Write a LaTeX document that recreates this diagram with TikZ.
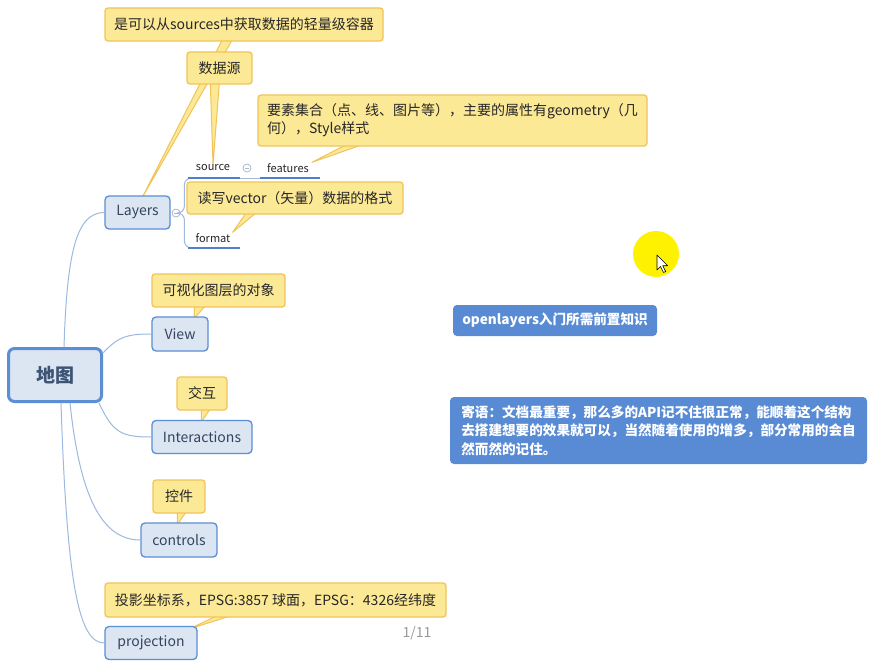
\documentclass[tikz,border=0pt]{standalone}
\usepackage{fontspec}
\setmainfont{Noto Sans CJK SC}
\usetikzlibrary{calc,backgrounds}
\definecolor{nodefill}{HTML}{DCE6F3}
\definecolor{nodeborder}{HTML}{5B8ED3}
\definecolor{nodetext}{HTML}{34445F}
\definecolor{maptext}{HTML}{3D5475}
\definecolor{calloutfill}{HTML}{FCE996}
\definecolor{calloutborder}{HTML}{F0C459}
\definecolor{branchcol}{HTML}{9DB9E0}
\definecolor{ulinecol}{HTML}{4F81C7}
\definecolor{infofill}{HTML}{588BD4}
\definecolor{collapsecol}{HTML}{A9B7CF}
\definecolor{hilite}{HTML}{FFF200}
\begin{document}
\begin{tikzpicture}[x=1pt,y=-1pt,
  bluebox/.style={draw=nodeborder, fill=nodefill, line width=1.3, rounded corners=4, text=nodetext, font=\fontsize{14}{16}\selectfont, inner sep=0},
  mapbox/.style={bluebox, line width=3, rounded corners=6, font=\bfseries\fontsize{19}{22}\selectfont, text=maptext},
  callout/.style={draw=calloutborder, fill=calloutfill, line width=1.3, rounded corners=3, text=black!85, font=\fontsize{14}{18}\selectfont, inner sep=0},
  tail/.style={draw=calloutborder, fill=calloutfill, line width=1, line join=round},
  branch/.style={draw=branchcol, line width=1},
  uline/.style={draw=ulinecol, line width=2},
  sublabel/.style={font=\fontsize{11}{13}\selectfont, text=black!85, inner sep=0},
  infobox/.style={fill=infofill, rounded corners=4, text=white, font=\bfseries\fontsize{13.6}{18.5}\selectfont, inner sep=0},
  collapse/.style={circle, draw=collapsecol, fill=white, line width=0.8, minimum size=8, inner sep=0,
    path picture={\draw[collapsecol, line width=0.8] ([xshift=-2]path picture bounding box.center) -- ([xshift=2]path picture bounding box.center);}}
]
\useasboundingbox (0,0) rectangle (890,671);
\begin{pgfonlayer}{background}
  \fill[white] (0,0) rectangle (890,671);
\end{pgfonlayer}

% main topic and branches
\node[mapbox, minimum width=93, minimum height=53] (map) at (55,375) {地图};
\node[bluebox, minimum width=65, minimum height=33] (layers) at (137.5,212.5) {Layers};
\node[bluebox, minimum width=56, minimum height=34] (view) at (180,334) {View};
\node[bluebox, minimum width=100, minimum height=33] (inter) at (202,437) {Interactions};
\node[bluebox, minimum width=76, minimum height=34] (ctrl) at (179,540) {controls};
\node[bluebox, minimum width=92, minimum height=33] (proj) at (151,643) {projection};

% callouts
\node[callout, minimum width=278, minimum height=33] (c1) at (244,24.5) {是可以从sources中获取数据的轻量级容器};
\node[callout, minimum width=65, minimum height=32] (c2) at (219.5,68) {数据源};
\node[callout, minimum width=389, minimum height=51, align=left] (c3) at (452.5,120.5) {要素集合（点、线、图片等），主要的属性有geometry（几\\何），Style样式};
\node[callout, minimum width=216, minimum height=32] (c4) at (295,198) {读写vector（矢量）数据的格式};
\node[callout, minimum width=133, minimum height=33] (c5) at (218.5,290.5) {可视化图层的对象};
\node[callout, minimum width=50, minimum height=33] (c6) at (202,393.5) {交互};
\node[callout, minimum width=52, minimum height=33] (c7) at (179,496.5) {控件};
\node[callout, minimum width=341, minimum height=34] (c8) at (275.5,600) {投影坐标系，EPSG:3857 球面，EPSG：4326经纬度};

% Layers sub-topics
\node[collapse] (col1) at (176,213) {};
\node[collapse] (col2) at (247,168) {};
\node[sublabel] (src) at (213,168) {source};
\node[sublabel] (feat) at (288,168) {features};
\node[sublabel] (fmt) at (213,238) {format};
\coordinate (srcL) at (188,178);
\coordinate (srcR) at (240,178);
\coordinate (featL) at (260,178);
\coordinate (featR) at (320,178);
\coordinate (fmtL) at (188,248);
\coordinate (fmtR) at (240,248);

\draw[branch, rounded corners=7] (col1.east) -- ++(4,0) |- (srcL);
\draw[branch, rounded corners=7] (col1.east) -- ++(4,0) |- (fmtL);
\draw[branch, draw=collapsecol] (srcR) -- (featL);
\draw[uline] (srcL) -- (srcR);
\draw[uline] (featL) -- (featR);
\draw[uline] (fmtL) -- (fmtR);

% connectors from the main topic
\draw[branch] ([xshift=57]map.north west) .. controls +(3,-95) and +(-28,0) .. (layers.west);
\draw[branch] ([yshift=22]map.east) .. controls +(15,-16) and +(-25,0) .. (view.west);
\draw[branch] ([xshift=-4]map.south east) .. controls +(14,30) and +(-30,0) .. (inter.west);
\draw[branch] ([xshift=63]map.south west) .. controls +(10,95) and +(-38,0) .. (ctrl.west);
\draw[branch] ([xshift=54]map.south west) .. controls +(6,185) and +(-25,0) .. (proj.west);

% callout tails (behind the boxes)
\begin{pgfonlayer}{background}
  \filldraw[tail] ([xshift=118,yshift=2]c1.south west) -- ([xshift=38,yshift=-2]layers.north west) -- ([xshift=128,yshift=2]c1.south west) -- cycle;
  \filldraw[tail] ([xshift=24,yshift=2]c2.south west) -- (src.north) -- ([xshift=33,yshift=2]c2.south west) -- cycle;
  \filldraw[tail] ([xshift=89,yshift=2]c3.south west) -- ([xshift=3,yshift=1]feat.north east) -- ([xshift=105,yshift=2]c3.south west) -- cycle;
  \filldraw[tail] ([xshift=60,yshift=2]c4.south west) -- ([xshift=2,yshift=1]fmt.north east) -- ([xshift=70,yshift=2]c4.south west) -- cycle;
  \filldraw[tail] ([xshift=43,yshift=2]c5.south west) -- ([xshift=43,yshift=-2]view.north west) -- ([xshift=54,yshift=2]c5.south west) -- cycle;
  \filldraw[tail] ([xshift=25,yshift=2]c6.south west) -- ([xshift=50,yshift=-2]inter.north west) -- ([xshift=34,yshift=2]c6.south west) -- cycle;
  \filldraw[tail] ([xshift=25,yshift=2]c7.south west) -- ([xshift=37,yshift=-2]ctrl.north west) -- ([xshift=34,yshift=2]c7.south west) -- cycle;
  \filldraw[tail] ([xshift=113,yshift=2]c8.south west) -- ([xshift=85,yshift=-3]proj.north west) -- ([xshift=127,yshift=2]c8.south west) -- cycle;
\end{pgfonlayer}

% floating info boxes
\node[infobox, minimum width=204, minimum height=31] (title) at (555,320.5) {openlayers入门所需前置知识};
\node[infobox, minimum width=417, minimum height=67, align=left] (note) at (658.5,430.5) {寄语：文档最重要，那么多的API记不住很正常，能顺着这个结构\\去搭建想要的效果就可以，当然随着使用的增多，部分常用的会自\\然而然的记住。};

% page number
\node[font=\fontsize{14}{16}\selectfont, text=black!40, inner sep=0] (page) at (417,633) {1/11};

% pointer highlight
\fill[hilite] (656,254) circle (23);
\filldraw[fill=white, draw=black, line width=0.6, line join=round] (657,255) -- ++(0,15) -- ++(3.5,-3.5) -- ++(3,6) -- ++(2.2,-1) -- ++(-3,-5.8) -- ++(5,0) -- cycle;
\end{tikzpicture}
\end{document}
